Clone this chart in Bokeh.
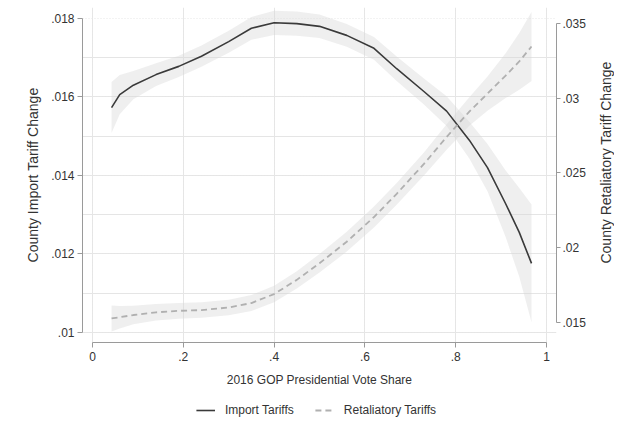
import math
from bokeh.plotting import figure
from bokeh.models import (Range1d, LinearAxis, FixedTicker, Legend, LegendItem,
                          ColumnDataSource, Grid)
from bokeh.layouts import row, column
from bokeh.embed import file_html
from bokeh.resources import INLINE

# ---- data ----
vote_share = [0.042, 0.06, 0.09, 0.14, 0.19, 0.24, 0.30, 0.35, 0.40, 0.45, 0.50,
              0.56, 0.62, 0.67, 0.73, 0.78, 0.83, 0.87, 0.91, 0.94, 0.967]

import_fit = [0.01573, 0.01606, 0.01630, 0.01657, 0.01678, 0.01704, 0.01741, 0.01775,
              0.01789, 0.01787, 0.01780, 0.01757, 0.01724, 0.01672, 0.01614, 0.01564,
              0.01490, 0.01420, 0.01328, 0.01255, 0.01176]
import_lo = [0.01508, 0.01556, 0.01594, 0.01628, 0.01651, 0.01677, 0.01713, 0.01746,
             0.01758, 0.01756, 0.01750, 0.01728, 0.01695, 0.01641, 0.01581, 0.01526,
             0.01443, 0.01360, 0.01243, 0.01142, 0.01026]
import_hi = [0.01638, 0.01656, 0.01666, 0.01686, 0.01705, 0.01731, 0.01769, 0.01804,
             0.01820, 0.01818, 0.01810, 0.01786, 0.01753, 0.01703, 0.01647, 0.01602,
             0.01537, 0.01480, 0.01413, 0.01368, 0.01326]

retal_fit = [0.01527, 0.01535, 0.01550, 0.01568, 0.01578, 0.01583, 0.01600, 0.01630,
             0.01690, 0.01785, 0.01896, 0.02040, 0.02205, 0.02360, 0.02560, 0.02740,
             0.02910, 0.03030, 0.03150, 0.03245, 0.03345]
retal_lo = [0.01440, 0.01460, 0.01488, 0.01513, 0.01525, 0.01531, 0.01548, 0.01577,
            0.01635, 0.01727, 0.01834, 0.01974, 0.02135, 0.02287, 0.02483, 0.02655,
            0.02815, 0.02915, 0.03000, 0.03055, 0.03115]
retal_hi = [0.01614, 0.01610, 0.01612, 0.01623, 0.01631, 0.01635, 0.01652, 0.01683,
            0.01745, 0.01843, 0.01958, 0.02106, 0.02275, 0.02433, 0.02637, 0.02825,
            0.03005, 0.03145, 0.03300, 0.03435, 0.03575]

x_ticks = [0, 0.2, 0.4, 0.6, 0.8, 1]
x_tick_labels = ["0", ".2", ".4", ".6", ".8", "1"]
left_ticks = [0.010, 0.012, 0.014, 0.016, 0.018]
left_tick_labels = [".01", ".012", ".014", ".016", ".018"]
right_ticks = [0.015, 0.020, 0.025, 0.030, 0.035]
right_tick_labels = [".015", ".02", ".025", ".03", ".035"]
series_names = ["Import Tariffs", "Retaliatory Tariffs"]

FONT = "Liberation Sans"
TXT = "#333333"
AXC = "#9a9a9a"
IMP_COLOR = "#3a3a3a"
RET_COLOR = "#b0b0b0"
RIGHT_TITLE = "County Retaliatory Tariff Change"

src = ColumnDataSource(dict(x=vote_share, imp=import_fit, imp_lo=import_lo, imp_hi=import_hi,
                            ret=retal_fit, ret_lo=retal_lo, ret_hi=retal_hi))

p = figure(frame_width=474, frame_height=335, output_backend="svg", toolbar_location=None,
           x_range=Range1d(-0.022, 1.022), y_range=Range1d(0.009745, 0.01828),
           min_border_left=82, min_border_right=36,
           min_border_top=7, min_border_bottom=50,
           x_axis_location=None, y_axis_location=None)
p.outline_line_color = None
p.background_fill_color = "white"
p.border_fill_color = "white"
p.extra_y_ranges = {"ret": Range1d(0.013663, 0.036056)}

# bands
p.varea(x="x", y1="imp_lo", y2="imp_hi", source=src, fill_color="#d8d8d8", fill_alpha=0.4)
p.varea(x="x", y1="ret_lo", y2="ret_hi", source=src, fill_color="#d8d8d8", fill_alpha=0.4,
        y_range_name="ret")
# lines
p.line(x="x", y="imp", source=src, line_color=IMP_COLOR, line_width=1.6)
p.line(x="x", y="ret", source=src, line_color=RET_COLOR, line_width=1.8,
       line_dash="6 4", y_range_name="ret")

def style_axis(ax, ticks, labels, standoff, title_standoff):
    ax.ticker = FixedTicker(ticks=ticks)
    ax.major_label_overrides = {t: l for t, l in zip(ticks, labels)}
    ax.bounds = (ticks[0], ticks[-1])
    ax.axis_line_color = AXC
    ax.major_tick_line_color = AXC
    ax.minor_tick_line_color = None
    ax.major_tick_out = 5
    ax.major_tick_in = 0
    ax.major_label_standoff = standoff
    ax.major_label_text_font = FONT
    ax.major_label_text_font_size = "12px"
    ax.major_label_text_color = TXT
    ax.axis_label_text_font = FONT
    ax.axis_label_text_font_style = "normal"
    ax.axis_label_text_color = TXT
    ax.axis_label_standoff = title_standoff

xax = LinearAxis(axis_label="2016 GOP Presidential Vote Share")
style_axis(xax, x_ticks, x_tick_labels, 4, 9)
xax.axis_label_text_font_size = "12px"
p.add_layout(xax, "below")

yax = LinearAxis(axis_label="County Import Tariff Change")
style_axis(yax, left_ticks, left_tick_labels, 3, 7)
yax.axis_label_text_font_size = "14px"
p.add_layout(yax, "left")

rax = LinearAxis(y_range_name="ret")
style_axis(rax, right_ticks, right_tick_labels, 2, 10)
rax.major_tick_out = 4
p.add_layout(rax, "right")

# grid
p.add_layout(Grid(dimension=0, ticker=xax.ticker, grid_line_color="#e6e6e6",
                  grid_line_dash="1 2", grid_line_width=1))
p.add_layout(Grid(dimension=1, ticker=yax.ticker, grid_line_color="#e6e6e6",
                  grid_line_dash="1 2", grid_line_width=1))

# right-hand title: a bare left axis of a narrow side figure, so it reads bottom-to-top
p2 = figure(frame_width=1, frame_height=310, output_backend="svg", toolbar_location=None,
            x_range=Range1d(0, 1), y_range=Range1d(0, 1),
            min_border_left=21, min_border_right=0, min_border_top=5, min_border_bottom=0,
            x_axis_location=None, y_axis_location=None)
p2.outline_line_color = None
p2.grid.visible = False
tax = LinearAxis(axis_label=RIGHT_TITLE, ticker=FixedTicker(ticks=[]))
tax.axis_line_color = None
tax.major_tick_line_color = None
tax.minor_tick_line_color = None
tax.major_label_text_font_size = "0px"
tax.major_label_standoff = 0
tax.major_tick_out = 0
tax.axis_label_standoff = 0
tax.axis_label_text_font = FONT
tax.axis_label_text_font_size = "14px"
tax.axis_label_text_font_style = "normal"
tax.axis_label_text_color = TXT
p2.add_layout(tax, "left")

# legend strip under the chart; swatch renderers share the chart data but lie
# outside this strip's x range, so only their legend glyphs are seen
pl = figure(width=620, height=25, output_backend="svg", toolbar_location=None,
            x_range=Range1d(5, 6), y_range=Range1d(0, 1),
            min_border_left=12, min_border_right=0, min_border_top=0, min_border_bottom=0,
            x_axis_location=None, y_axis_location=None)
pl.outline_line_color = None
pl.grid.visible = False
sw_imp = pl.line(x="x", y="imp", source=src, line_color=IMP_COLOR, line_width=1.6)
sw_ret = pl.line(x="x", y="ret", source=src, line_color=RET_COLOR, line_width=1.8,
                 line_dash="6 4")
legend = Legend(items=[LegendItem(label=series_names[0], renderers=[sw_imp]),
                       LegendItem(label=series_names[1], renderers=[sw_ret])],
                orientation="horizontal", location="bottom_center",
                label_text_font=FONT, label_text_font_size="12px", label_text_color=TXT,
                glyph_width=19, glyph_height=14, label_height=14, label_standoff=10,
                spacing=21, padding=0, margin=0, border_line_color=None,
                background_fill_alpha=0)
pl.add_layout(legend, "center")

layout = column(row(p, p2, spacing=0), pl, spacing=0)
open("out.html", "w").write(file_html(layout, INLINE))
